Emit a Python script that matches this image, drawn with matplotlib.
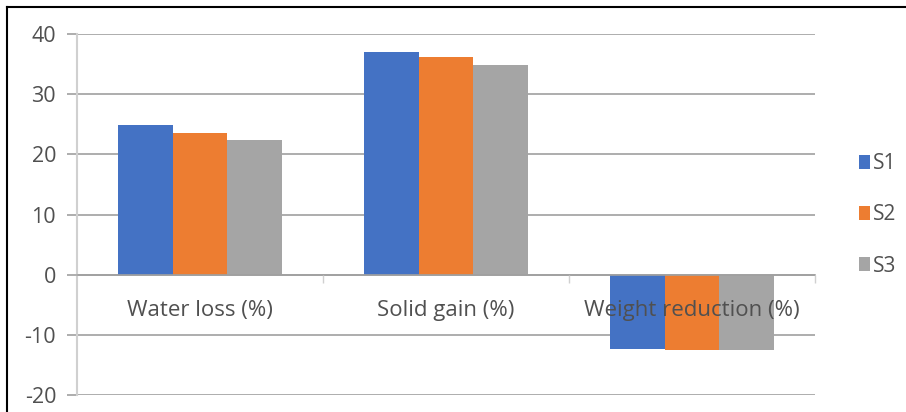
import matplotlib
matplotlib.use("Agg")
import matplotlib.pyplot as plt
import numpy as np
from matplotlib.lines import Line2D
from matplotlib.patches import Patch

categories = ["Water loss (%)", "Solid gain (%)", "Weight reduction (%)"]
series_names = ["S1", "S2", "S3"]
s1 = [24.9, 37.0, -12.3]
s2 = [23.6, 36.2, -12.6]
s3 = [22.4, 34.9, -12.6]
yticks = [-20, -10, 0, 10, 20, 30, 40]
colors = ["#4472C4", "#ED7D31", "#A5A5A5"]

plt.rcParams['font.family'] = ['Open Sans', 'DejaVu Sans']
W, H = 906, 412
fig = plt.figure(figsize=(W / 100, H / 100), dpi=100)
ax = fig.add_axes([77 / W, 1 - 395 / H, (815 - 77) / W, (395 - 34) / H])

x = np.arange(len(categories))
bw = 0.222
for i, (vals, c) in enumerate(zip([s1, s2, s3], colors)):
    ax.bar(x + (i - 1) * bw, vals, width=bw, color=c, zorder=1, label=series_names[i])

ax.set_xlim(-0.5, 2.5)
ax.set_ylim(-20, 40)
ax.set_yticks(yticks)
ax.set_yticklabels([str(t) for t in yticks], color="#505050", fontsize=15.5)
ax.yaxis.grid(True, color="#a0a0a0", linewidth=1.2, zorder=0)
ax.set_axisbelow(True)
ax.tick_params(axis='y', length=7, width=1.2, color="#a0a0a0", pad=8)

for s in ["top", "right"]:
    ax.spines[s].set_visible(False)
ax.spines['left'].set_color("#d0d0d0")
ax.spines['left'].set_linewidth(1.5)
ax.spines['bottom'].set_position(('data', 0))
ax.spines['bottom'].set_color("#a0a0a0")
ax.spines['bottom'].set_linewidth(1.2)

ax.set_xticks(x)
ax.set_xticklabels(categories, color="#505050", fontsize=16)
ax.tick_params(axis='x', length=0, pad=18)
ax.set_xticks([0.5, 1.5, 2.5], minor=True)
ax.tick_params(axis='x', which='minor', length=6, color="#d0d0d0", width=1)
ax.xaxis.set_zorder(5)

handles = [Patch(facecolor=c, edgecolor='none') for c in colors]
leg = fig.legend(handles, series_names, loc='center left', bbox_to_anchor=(840 / W, 1 - 215 / H),
                 frameon=False, fontsize=15, labelcolor="#505050", handlelength=0.55, handleheight=0.65,
                 handletextpad=0.15, labelspacing=1.45)

fig.add_artist(Line2D([7 / W, 7 / W], [0, 1 - 7 / H], color="black", linewidth=1.5, transform=fig.transFigure))
fig.add_artist(Line2D([7 / W, 1], [1 - 7 / H, 1 - 7 / H], color="black", linewidth=1.5, transform=fig.transFigure))

fig.savefig("out.png", dpi=100)
